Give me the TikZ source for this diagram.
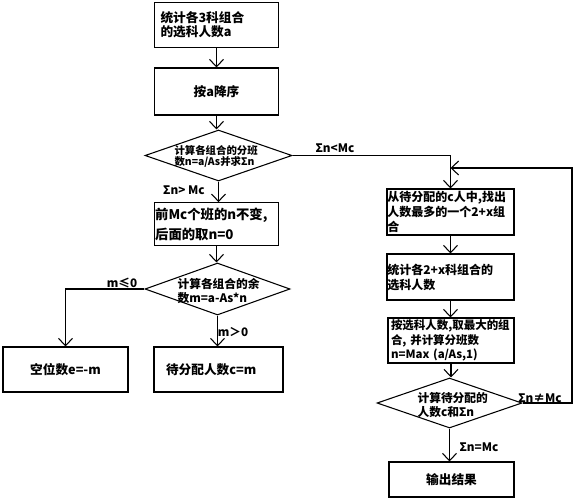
\documentclass[tikz,border=0pt]{standalone}
\usepackage{fontspec}
\setmainfont{Noto Sans CJK SC}
\usetikzlibrary{arrows.meta,shapes.geometric}
\begin{document}
\begin{tikzpicture}[x=0.75pt,y=-0.75pt,line width=0.8pt,
 arr/.style={-{Straight Barb[length=5.5pt,width=10.5pt,line width=0.8pt]}},
 bx/.style={draw,rectangle,inner ysep=0pt,font=\fontsize{9.5}{10.5}\selectfont\bfseries},
 rbx/.style={draw,rectangle,inner ysep=0pt,font=\fontsize{9}{11.2}\selectfont\bfseries},
 dia/.style={draw,diamond,inner sep=0pt},
 dtxt/.style={anchor=west,align=left,inner sep=0pt},
 lbl/.style={font=\fontsize{8.8}{10}\selectfont\bfseries,inner sep=0pt}]
\useasboundingbox (0,0) rectangle (575,500);
% left column
\node[bx,minimum width=93pt,minimum height=33.75pt,text width=84pt,inner xsep=4.5pt,align=left] (b1) at (216.5,25) {统计各3科组合\\的选科人数a};
\node[bx,minimum width=93pt,minimum height=35.25pt,align=center] (b2) at (216.5,91.5) {按a降序};
\node[dia,minimum width=110.25pt,minimum height=38.25pt] (d1) at (218.5,155.5) {};
\node[dtxt,font=\fontsize{7.8}{8.6}\selectfont\bfseries] (t1) at (174,156.5) {计算各组合的分班\\数n=a/As并求Σn};
\node[bx,font=\fontsize{10}{15}\selectfont\bfseries,minimum width=93pt,minimum height=32pt,text width=92pt,inner xsep=0.5pt,align=left] (b3) at (216.5,224) {前Mc个班的n不变,\\后面的取n=0};
\node[dia,minimum width=108.75pt,minimum height=39pt] (d2) at (217.5,289) {};
\node[dtxt,font=\fontsize{8.8}{9.8}\selectfont\bfseries] (t2) at (177,291) {计算各组合的余\\数m=a-As*n};
\node[bx,minimum width=93.75pt,minimum height=33.75pt,align=center] (b4) at (65.5,369.5) {空位数e=-m};
\node[bx,minimum width=96.75pt,minimum height=33.75pt,text width=78.75pt,inner xsep=9pt,align=left] (b5) at (218.5,369.5) {待分配人数c=m};
% right column
\node[rbx,minimum width=95.25pt,minimum height=34.5pt,text width=94.6pt,inner xsep=0.3pt,align=left] (r1) at (450.5,212) {从待分配的c人中,找出\\人数最多的一个2+x组\\合};
\node[rbx,minimum width=95.25pt,minimum height=34.5pt,text width=94.6pt,inner xsep=0.3pt,align=left] (r2) at (450.5,277) {统计各2+x科组合的\\选科人数};
\node[rbx,font=\fontsize{8.6}{10.8}\selectfont\bfseries,minimum width=94.5pt,minimum height=33.75pt,text width=90pt,inner xsep=2.25pt,align=left] (r3) at (451,340.5) {按选科人数,取最大的组\\合, 并计算分班数\\n=Max (a/As,1)};
\node[dia,minimum width=108.75pt,minimum height=37.5pt] (dR) at (449.5,403) {};
\node[dtxt,font=\fontsize{8.8}{10.5}\selectfont\bfseries] (tR) at (417,405) {计算待分配的\\人数c和Σn};
\node[bx,minimum width=93.75pt,minimum height=26.25pt,align=center] (r4) at (451.5,479.5) {输出结果};
% connectors
\draw[arr] (b1.south) -- (b1.south |- b2.north);
\draw[arr] (b2.south) -- (b2.south |- d1.north);
\draw[arr] (d1.south) -- (d1.south |- b3.north);
\draw[arr] (b3.south) -- (b3.south |- d2.north);
\draw[arr] (d2.west) -| (b4.north);
\draw[arr] (d2.south) -- (d2.south |- b5.north);
\draw[arr] (d1.east) -| (r1.north);
\draw[arr] (r1.south) -- (r1.south |- r2.north);
\draw[arr] (r2.south) -- (r2.south |- r3.north);
\draw[arr] (r3.south) -- (r3.south |- dR.north);
\draw[arr] (dR.south) -- (dR.south |- r4.north);
\coordinate (cT) at (572,168);
\coordinate (mrg) at (450.5,168);
\draw[arr] (dR.east) -| (cT) -- (mrg);
% labels
\node[lbl] (l1) at (335,148) {Σn<Mc};
\node[lbl] (l2) at (184,190) {Σn> Mc};
\node[lbl] (l3) at (122,283) {m≤0};
\node[lbl] (l4) at (233,332) {m＞0};
\node[lbl] (l5) at (540,398) {Σn≠Mc};
\node[lbl] (l6) at (479,447) {Σn=Mc};
\end{tikzpicture}
\end{document}
